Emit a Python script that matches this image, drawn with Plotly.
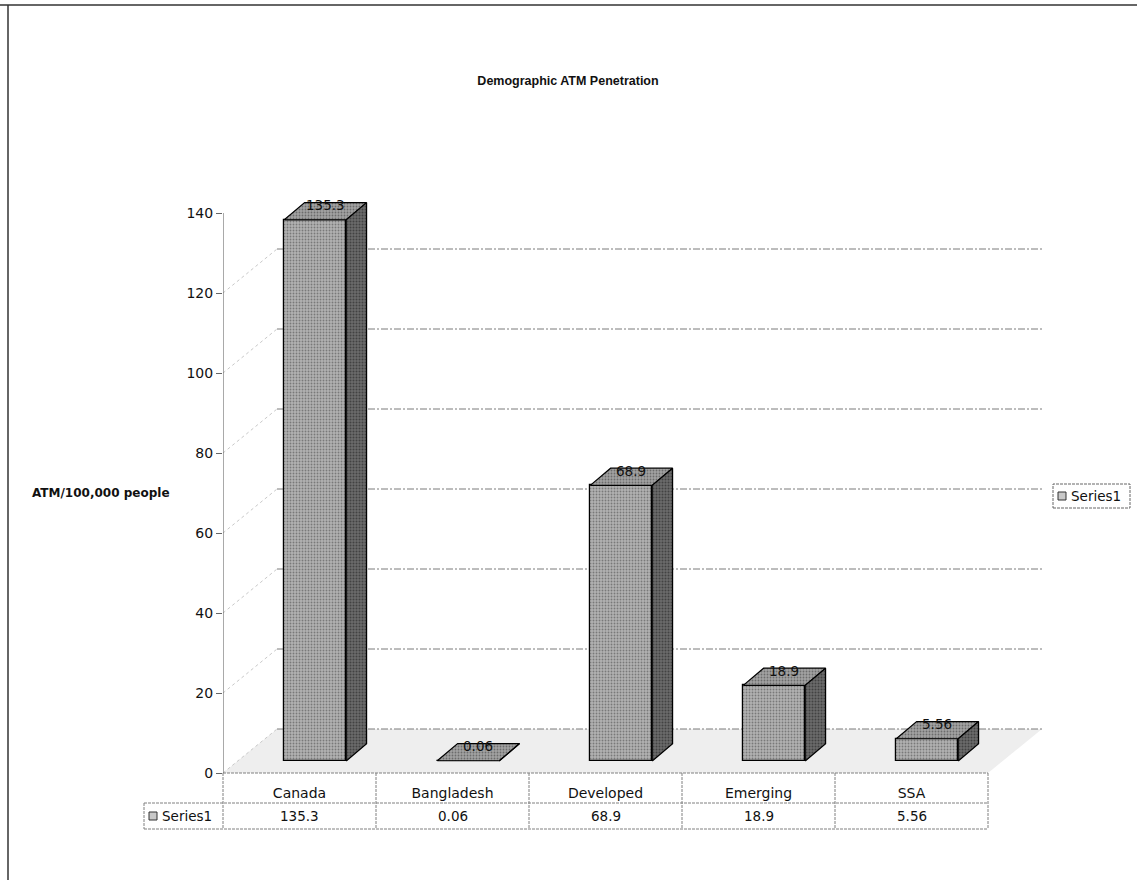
import plotly.graph_objects as go

# ---- data -------------------------------------------------------------
CATEGORIES = ["Canada", "Bangladesh", "Developed", "Emerging", "SSA"]
VALUES = [135.3, 0.06, 68.9, 18.9, 5.56]
VALUE_TEXT = ["135.3", "0.06", "68.9", "18.9", "5.56"]
SERIES_NAME = "Series1"
Y_TICKS = [0, 20, 40, 60, 80, 100, 120, 140]
WALL_GRID = [0, 20, 40, 60, 80, 100, 120]

# ---- page geometry (pixels) ------------------------------------------
FIG_W, FIG_H = 1137, 880
PLOT_L, PLOT_R, PLOT_T, PLOT_B = 223, 1045, 160, 773
CAT_PX = 153.0          # width of one category slot
UNIT_PX = 4.0           # pixels per value unit

X0 = -0.5
X1 = X0 + (PLOT_R - PLOT_L) / CAT_PX
Y1 = (PLOT_B - PLOT_T) / UNIT_PX

# pseudo-3D depth of the chart box and of the bars
WALL_DX, WALL_DY = 0.353, 11.0
FLOOR_LIFT = 3.0
BAR_SHIFT = 0.103
BAR_W = 0.405
BAR_DX, BAR_DY = 0.133, 4.3

FONT = "DejaVu Sans"
TITLE_FONT = "Liberation Sans"
TXT = "#111111"


def px_x(px):
    return (px - PLOT_L) / (PLOT_R - PLOT_L)


def px_y(py):
    return (PLOT_B - py) / (PLOT_B - PLOT_T)


def data_x(x):
    return (x - X0) / (X1 - X0)


fig = go.Figure()

# front faces of the bars
xs = [i + BAR_SHIFT for i in range(len(CATEGORIES))]
fig.add_trace(go.Bar(
    x=xs, y=VALUES, base=FLOOR_LIFT, width=BAR_W,
    marker=dict(color="#a0a0a0",
                line=dict(color="#000000", width=1.2),
                pattern=dict(shape=".", fgcolor="#404040", bgcolor="#b2b2b2",
                             size=3, solidity=0.3)),
    showlegend=False, hoverinfo="skip",
))

# top and side faces of the bars
top_x, top_y, side_x, side_y = [], [], [], []
for xc, v in zip(xs, VALUES):
    a, b = xc - BAR_W / 2, xc + BAR_W / 2
    h = FLOOR_LIFT + v
    top_x += [a, b, b + BAR_DX, a + BAR_DX, a, None]
    top_y += [h, h, h + BAR_DY, h + BAR_DY, h, None]
    side_x += [b, b + BAR_DX, b + BAR_DX, b, b, None]
    side_y += [FLOOR_LIFT, FLOOR_LIFT + BAR_DY, h + BAR_DY, h, FLOOR_LIFT, None]

fig.add_trace(go.Scatter(
    x=top_x, y=top_y, mode="lines", fill="toself",
    fillcolor="#8a8a8a", line=dict(color="#000000", width=1.2),
    fillpattern=dict(shape=".", fgcolor="#363636", bgcolor="#a2a2a2",
                     size=3, solidity=0.3),
    showlegend=False, hoverinfo="skip",
))
fig.add_trace(go.Scatter(
    x=side_x, y=side_y, mode="lines", fill="toself",
    fillcolor="#4a4a4a", line=dict(color="#000000", width=1.2),
    fillpattern=dict(shape=".", fgcolor="#1a1a1a", bgcolor="#6a6a6a",
                     size=3, solidity=0.35),
    showlegend=False, hoverinfo="skip",
))

shapes = []

# floor of the chart box
fx = [X0, X0 + 5, X0 + 5 + WALL_DX, X0 + WALL_DX]
fy = [0, 0, WALL_DY, WALL_DY]
shapes.append(dict(
    type="path", xref="x", yref="y", layer="below",
    path="M{} {} L{} {} L{} {} L{} {} Z".format(fx[0], fy[0], fx[1], fy[1],
                                              fx[2], fy[2], fx[3], fy[3]),
    fillcolor="#eeeeee", line=dict(width=0),
))

# gridlines on the back wall and on the side wall
for v in WALL_GRID:
    shapes.append(dict(
        type="line", xref="x", yref="y", layer="below",
        x0=X0 + WALL_DX, x1=X0 + 5 + WALL_DX, y0=v + WALL_DY, y1=v + WALL_DY,
        line=dict(color="#7a7a7a", width=1, dash="7px,2px,2px,2px"),
    ))
    shapes.append(dict(
        type="line", xref="x", yref="y", layer="below",
        x0=X0, x1=X0 + WALL_DX, y0=v, y1=v + WALL_DY,
        line=dict(color="#c8c8c8", width=1, dash="dot"),
    ))

# value axis line
shapes.append(dict(
    type="line", xref="x", yref="y", x0=X0, x1=X0, y0=0, y1=max(Y_TICKS),
    line=dict(color="#555555", width=1),
))

# data table grid
TBL_TOP, TBL_MID, TBL_BOT = 773, 803, 829
KEY_L = 144
tline = dict(color="#808080", width=1, dash="3px,1px")
xl, xr = px_x(PLOT_L), data_x(X0 + 5)
shapes.append(dict(type="line", xref="paper", yref="paper",
                   x0=xl, x1=xr, y0=px_y(TBL_TOP), y1=px_y(TBL_TOP), line=tline))
for py in (TBL_MID, TBL_BOT):
    shapes.append(dict(type="line", xref="paper", yref="paper",
                       x0=px_x(KEY_L), x1=xr, y0=px_y(py), y1=px_y(py), line=tline))
shapes.append(dict(type="line", xref="paper", yref="paper",
                   x0=px_x(KEY_L), x1=px_x(KEY_L),
                   y0=px_y(TBL_MID), y1=px_y(TBL_BOT), line=tline))
for k in range(len(CATEGORIES) + 1):
    xp = data_x(X0 + k)
    shapes.append(dict(type="line", xref="paper", yref="paper",
                       x0=xp, x1=xp, y0=px_y(TBL_TOP), y1=px_y(TBL_BOT), line=tline))


# legend keys (table and legend box)
def key_square(left, top, size=8):
    return dict(type="rect", xref="paper", yref="paper",
                x0=px_x(left), x1=px_x(left + size),
                y0=px_y(top + size), y1=px_y(top),
                fillcolor="#c8c8c8", line=dict(color="#333333", width=1))


shapes.append(key_square(149, 812))

LEG_L, LEG_R, LEG_T, LEG_B = 1053, 1130, 484, 508
shapes.append(dict(type="rect", xref="paper", yref="paper",
                   x0=px_x(LEG_L), x1=px_x(LEG_R), y0=px_y(LEG_B), y1=px_y(LEG_T),
                   line=dict(color="#666666", width=1, dash="3px,1px"),
                   fillcolor="rgba(0,0,0,0)"))
shapes.append(key_square(1058, 492))

# outer chart border (top and left edges)
shapes.append(dict(type="line", xref="paper", yref="paper",
                   x0=px_x(0), x1=px_x(FIG_W), y0=px_y(5), y1=px_y(5),
                   line=dict(color="#333333", width=1.5)))
shapes.append(dict(type="line", xref="paper", yref="paper",
                   x0=px_x(8), x1=px_x(8), y0=px_y(5), y1=px_y(FIG_H),
                   line=dict(color="#333333", width=1.5)))

annotations = []

# data labels on the bar tops
for xc, v, t in zip(xs, VALUES, VALUE_TEXT):
    annotations.append(dict(
        x=xc + BAR_DX / 2, y=FLOOR_LIFT + v + BAR_DY * 0.85, xref="x", yref="y",
        text=t, showarrow=False, xanchor="center", yanchor="middle",
        font=dict(family=FONT, size=13.5, color=TXT),
    ))

# data table values
for i, t in enumerate(VALUE_TEXT):
    annotations.append(dict(
        x=data_x(i), y=px_y((TBL_MID + TBL_BOT) / 2), xref="paper", yref="paper",
        text=t, showarrow=False, xanchor="center", yanchor="middle",
        font=dict(family=FONT, size=13.5, color=TXT),
    ))

annotations.append(dict(
    x=px_x(160), y=px_y((TBL_MID + TBL_BOT) / 2), xref="paper", yref="paper",
    text=SERIES_NAME, showarrow=False, xanchor="left", yanchor="middle",
    font=dict(family=FONT, size=13.5, color=TXT),
))
annotations.append(dict(
    x=px_x(1069), y=px_y((LEG_T + LEG_B) / 2), xref="paper", yref="paper",
    text=SERIES_NAME, showarrow=False, xanchor="left", yanchor="middle",
    font=dict(family=FONT, size=13.5, color=TXT),
))

# value axis title
annotations.append(dict(
    x=px_x(30), y=px_y(493), xref="paper", yref="paper",
    text="<b>ATM/100,000 people</b>", showarrow=False,
    xanchor="left", yanchor="middle",
    font=dict(family=FONT, size=12, color=TXT),
))

fig.update_layout(
    width=FIG_W, height=FIG_H,
    margin=dict(l=PLOT_L, r=FIG_W - PLOT_R, t=PLOT_T, b=FIG_H - PLOT_B),
    paper_bgcolor="#ffffff", plot_bgcolor="#ffffff",
    title=dict(text="Demographic ATM Penetration", x=568 / FIG_W, y=1 - 81 / FIG_H,
               xref="container", yref="container",
               xanchor="center", yanchor="middle",
               font=dict(family=TITLE_FONT, size=12.5, color=TXT, weight="bold")),
    xaxis=dict(range=[X0, X1], tickvals=list(range(len(CATEGORIES))),
               ticktext=CATEGORIES, ticks="outside", ticklen=7,
               tickcolor="rgba(0,0,0,0)", showgrid=False, zeroline=False,
               showline=False, tickfont=dict(family=FONT, size=14, color=TXT),
               fixedrange=True),
    yaxis=dict(range=[0, Y1], tickvals=Y_TICKS, ticks="outside", ticklen=6,
               tickcolor="#666666", showgrid=False, zeroline=False,
               showline=False, tickfont=dict(family=FONT, size=14, color=TXT),
               fixedrange=True),
    shapes=shapes, annotations=annotations,
    showlegend=False, bargap=0,
)

fig.write_html("out.html")
